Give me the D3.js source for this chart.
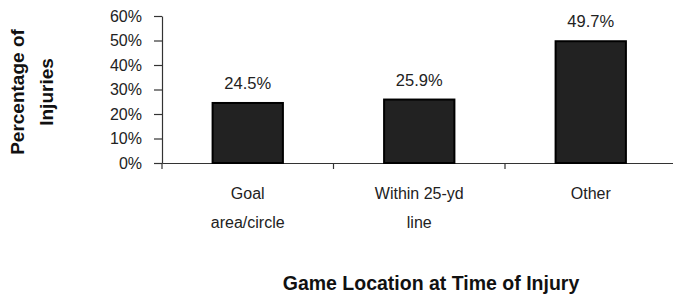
<!DOCTYPE html>
<html>
<head>
<meta charset="utf-8">
<script src="https://cdn.jsdelivr.net/npm/d3@7"></script>
<style>
  body { margin: 0; background: #fff; }
  svg { display: block; font-family: "Liberation Sans", Arial, sans-serif; }
</style>
</head>
<body>
<svg id="chart" width="673" height="297"></svg>
<script>
const categories = ["Goal area/circle", "Within 25-yd line", "Other"];
const labelLines = [["Goal", "area/circle"], ["Within 25-yd", "line"], ["Other"]];
const percents = [24.5, 25.9, 49.7];
const yTicks = [0, 10, 20, 30, 40, 50, 60];

const svg = d3.select("#chart");
const textColor = "#222";

// plot area
const plotLeft = 162, plotRight = 676.5, plotTop = 16, plotBottom = 163;

const x = d3.scaleBand()
  .domain(categories)
  .range([plotLeft, plotRight])
  .paddingInner(0.59)
  .paddingOuter(0.295);

// band scale with no padding, used for the category separator ticks
const xCell = d3.scaleBand().domain(categories).range([plotLeft, plotRight]);

const y = d3.scaleLinear().domain([0, 60]).range([plotBottom, plotTop]);

// y axis
const yAxis = svg.append("g")
  .attr("transform", `translate(${plotLeft},0)`)
  .call(d3.axisLeft(y).tickValues(yTicks).tickSize(8).tickSizeOuter(0).tickPadding(12).tickFormat(d => d + "%"));
yAxis.selectAll("path, line").attr("stroke", "#333").attr("stroke-width", 1.2);
yAxis.selectAll("text")
  .attr("font-size", 16)
  .attr("font-family", "Liberation Sans, Arial, sans-serif")
  .attr("fill", textColor);

// x axis
const xAxis = svg.append("g")
  .attr("transform", `translate(0,${plotBottom})`)
  .call(d3.axisBottom(x).tickSize(0).tickSizeOuter(0).tickFormat(""));
xAxis.selectAll("path").attr("stroke", "#333").attr("stroke-width", 1.2);

xAxis.selectAll("line.sep")
  .data(categories)
  .join("line")
  .attr("class", "sep")
  .attr("x1", d => xCell(d))
  .attr("x2", d => xCell(d))
  .attr("y1", 0)
  .attr("y2", 6)
  .attr("stroke", "#333")
  .attr("stroke-width", 1.2);

// bars
svg.selectAll("rect.bar")
  .data(percents)
  .join("rect")
  .attr("class", "bar")
  .attr("x", (d, i) => x(categories[i]))
  .attr("y", d => y(d))
  .attr("width", x.bandwidth())
  .attr("height", d => y(0) - y(d))
  .attr("fill", "#222")
  .attr("stroke", "#000")
  .attr("stroke-width", 2);

// value labels
svg.selectAll("text.value")
  .data(percents)
  .join("text")
  .attr("class", "value")
  .attr("x", (d, i) => x(categories[i]) + x.bandwidth() / 2)
  .attr("y", d => y(d) - 14)
  .attr("text-anchor", "middle")
  .attr("font-size", 16.5)
  .attr("fill", textColor)
  .text(d => d.toFixed(1) + "%");

// category labels
labelLines.forEach((lines, i) => {
  const cx = x(categories[i]) + x.bandwidth() / 2;
  lines.forEach((line, j) => {
    svg.append("text")
      .attr("x", cx)
      .attr("y", 199 + j * 29)
      .attr("text-anchor", "middle")
      .attr("font-size", 16)
      .attr("fill", textColor)
      .text(line);
  });
});

// axis titles
svg.append("text")
  .attr("x", 431)
  .attr("y", 290)
  .attr("text-anchor", "middle")
  .attr("font-size", 19.5)
  .attr("font-weight", "bold")
  .attr("fill", "#111")
  .text("Game Location at Time of Injury");

const yTitle = svg.append("text")
  .attr("transform", "translate(0,92) rotate(-90)")
  .attr("text-anchor", "middle")
  .attr("font-size", 19)
  .attr("font-weight", "bold")
  .attr("fill", "#111");
yTitle.append("tspan").attr("x", 0).attr("y", 24).text("Percentage of");
yTitle.append("tspan").attr("x", 0).attr("y", 53).text("Injuries");
</script>
</body>
</html>
